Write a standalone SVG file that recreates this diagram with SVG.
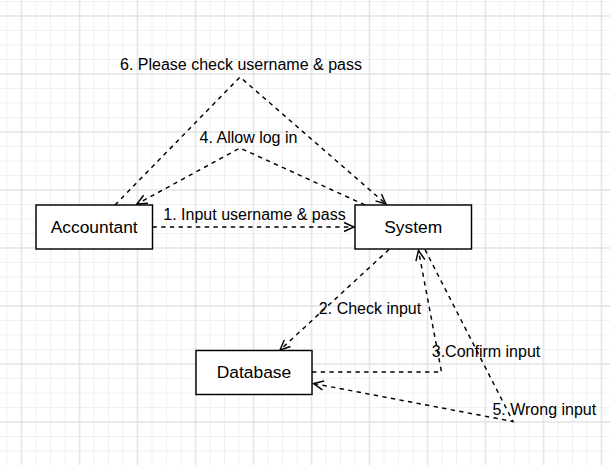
<svg xmlns="http://www.w3.org/2000/svg" width="610" height="465" viewBox="0 0 610 465">
  <defs>
    <pattern id="minor" patternUnits="userSpaceOnUse" x="-0.25" y="-5.75" width="14.5" height="14.5">
      <path d="M7.25 0V14.5M0 7.25H14.5" stroke="#f0f0f0" stroke-width="1" fill="none"/>
    </pattern>
    <pattern id="major" patternUnits="userSpaceOnUse" x="-7.5" y="-13" width="58" height="58">
      <path d="M29 0V58M0 29H58" stroke="#dddddd" stroke-width="1" fill="none"/>
    </pattern>
    <marker id="open" markerUnits="userSpaceOnUse" markerWidth="14" markerHeight="14" viewBox="-12 -7 14 14" refX="0" refY="0" orient="auto" overflow="visible">
      <path d="M-10 -4.5L0 0L-10 4.5" fill="none" stroke="#000" stroke-width="1.45"/>
    </marker>
  </defs>
  <style>
    .node rect { fill: #fff; stroke: #000; stroke-width: 1.45; }
    .node text { font-family: "Liberation Sans", Arial, sans-serif; font-size: 17.4px; fill: #000; text-anchor: middle; }
    .edge { fill: none; stroke: #000; stroke-width: 1.45; stroke-dasharray: 4.35 4.35; marker-end: url(#open); }
    .lbl { font-family: "Liberation Sans", Arial, sans-serif; font-size: 16px; fill: #000; text-anchor: middle; }
  </style>
  <rect width="610" height="465" fill="#fff"/>
  <rect width="610" height="465" fill="url(#minor)"/>
  <rect width="610" height="465" fill="url(#major)"/>

  <g id="connectors">
    <path class="edge" d="M152.5 227H354"/>
    <path class="edge" d="M115 205L240 77L386 204"/>
    <path class="edge" d="M365 205L240 148L137 204"/>
    <path class="edge" d="M389 249.5L280 350"/>
    <path class="edge" d="M312 372H441.5L418.5 250.5"/>
    <path class="edge" d="M425 249.5L513 421.5L313.5 383.5"/>
    <text class="lbl" x="254.5" y="219.5">1. Input username &amp; pass</text>
    <text class="lbl" x="370" y="314">2. Check input</text>
    <text class="lbl" x="486" y="356.5">3.Confirm input</text>
    <text class="lbl" x="248.5" y="143">4. Allow log in</text>
    <text class="lbl" x="544.3" y="415">5. Wrong input</text>
    <text class="lbl" x="241" y="69.5">6. Please check username &amp; pass</text>
  </g>

  <g id="accountant" class="node">
    <rect x="36" y="205" width="116.5" height="44"/>
    <text x="94.2" y="233">Accountant</text>
  </g>
  <g id="system" class="node">
    <rect x="355" y="205" width="116.5" height="44"/>
    <text x="413.2" y="233">System</text>
  </g>
  <g id="database" class="node">
    <rect x="196" y="350.5" width="116" height="44"/>
    <text x="254" y="378">Database</text>
  </g>
</svg>
